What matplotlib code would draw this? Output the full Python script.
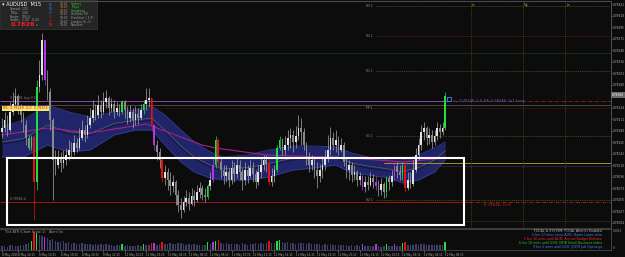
import matplotlib
matplotlib.use("Agg")
import matplotlib.pyplot as plt
import numpy as np
from matplotlib.patches import Rectangle

# ---------------- data (prices in points, 1 point = 0.00001) ----------------
first_open_pts = 78186
close_pts = [
    78194, 78210, 78190, 78226, 78242, 78258, 78234, 78220, 78200, 78174,
    78154, 78176, 78086, 78276, 78300, 78370, 78290, 78266, 78210, 78130,
    78120, 78134, 78124, 78130, 78140, 78150, 78146, 78164, 78154, 78174,
    78190, 78180, 78200, 78214, 78230, 78220, 78240, 78226, 78246, 78254,
    78234, 78242, 78226, 78234, 78226, 78246, 78230, 78214, 78226, 78210,
    78222, 78214, 78230, 78242, 78250, 78254, 78200, 78160, 78146, 78130,
    78094, 78106, 78090, 78078, 78086, 78060, 78040, 78030, 78046, 78054,
    78042, 78058, 78050, 78066, 78074, 78060, 78056, 78078, 78090, 78120,
    78170, 78126, 78110, 78098, 78106, 78090, 78114, 78102, 78120, 78106,
    78090, 78110, 78098, 78114, 78102, 78086, 78106, 78120, 78130, 78122,
    78086, 78098, 78110, 78154, 78170, 78150, 78160, 78174, 78180, 78166,
    78178, 78194, 78186, 78160, 78134, 78120, 78130, 78110, 78098, 78110,
    78120, 78134, 78150, 78174, 78160, 78170, 78150, 78160, 78126, 78110,
    78120, 78100, 78106, 78090, 78098, 78076, 78086, 78080, 78094, 78086,
    78078, 78070, 78082, 78066, 78094, 78086, 78098, 78118, 78106, 78100,
    78120, 78074, 78090, 78082, 78110, 78140, 78160, 78186, 78194, 78174,
    78180, 78166, 78178, 78194, 78186, 78194, 78258]
high_pts = [
    78214, 78226, 78220, 78246, 78266, 78274, 78262, 78242, 78226, 78210,
    78180, 78180, 78180, 78290, 78330, 78384, 78366, 78310, 78274, 78214,
    78150, 78150, 78146, 78150, 78154, 78170, 78166, 78180, 78174, 78194,
    78210, 78200, 78220, 78234, 78250, 78242, 78260, 78250, 78266, 78270,
    78258, 78254, 78250, 78246, 78242, 78250, 78250, 78238, 78240, 78234,
    78238, 78234, 78242, 78250, 78274, 78274, 78254, 78200, 78170, 78154,
    78134, 78120, 78114, 78106, 78100, 78090, 78070, 78054, 78058, 78070,
    78066, 78074, 78070, 78080, 78086, 78080, 78074, 78082, 78106, 78134,
    78178, 78174, 78134, 78120, 78120, 78114, 78130, 78126, 78134, 78130,
    78114, 78126, 78120, 78130, 78126, 78110, 78120, 78134, 78140, 78140,
    78130, 78114, 78120, 78160, 78178, 78174, 78178, 78190, 78194, 78190,
    78198, 78220, 78214, 78194, 78166, 78146, 78140, 78134, 78126, 78122,
    78134, 78150, 78180, 78196, 78186, 78190, 78178, 78174, 78166, 78134,
    78130, 78126, 78120, 78110, 78106, 78100, 78098, 78098, 78106, 78102,
    78098, 78090, 78094, 78086, 78098, 78100, 78110, 78124, 78126, 78120,
    78126, 78124, 78106, 78106, 78130, 78154, 78174, 78200, 78206, 78198,
    78194, 78190, 78190, 78206, 78202, 78206, 78266]
low_pts = [
    78174, 78186, 78178, 78186, 78220, 78234, 78222, 78206, 78186, 78160,
    78150, 78150, 78010, 78070, 78266, 78290, 78280, 78250, 78190, 78050,
    78100, 78114, 78106, 78114, 78120, 78130, 78134, 78140, 78146, 78150,
    78170, 78166, 78174, 78194, 78206, 78210, 78214, 78214, 78222, 78234,
    78220, 78226, 78214, 78220, 78218, 78222, 78214, 78202, 78206, 78194,
    78200, 78202, 78210, 78222, 78230, 78238, 78190, 78150, 78130, 78114,
    78086, 78080, 78070, 78060, 78066, 78040, 78026, 78014, 78026, 78038,
    78030, 78040, 78038, 78046, 78054, 78050, 78046, 78052, 78070, 78086,
    78114, 78118, 78094, 78082, 78086, 78076, 78082, 78086, 78094, 78090,
    78070, 78080, 78084, 78094, 78086, 78074, 78080, 78094, 78110, 78106,
    78080, 78078, 78086, 78106, 78150, 78140, 78140, 78150, 78154, 78146,
    78154, 78170, 78160, 78150, 78120, 78106, 78110, 78094, 78074, 78086,
    78094, 78110, 78126, 78140, 78150, 78146, 78140, 78146, 78118, 78094,
    78090, 78086, 78090, 78078, 78080, 78070, 78066, 78070, 78078, 78074,
    78070, 78058, 78060, 78054, 78056, 78070, 78078, 78090, 78094, 78090,
    78090, 78066, 78070, 78074, 78078, 78106, 78130, 78150, 78170, 78160,
    78162, 78154, 78160, 78170, 78174, 78180, 78190]
# indicator-coloured candles (g = green, r = red, m = magenta)
special_bars = {11: 'g', 13: 'g', 45: 'g', 53: 'g', 77: 'g', 80: 'g', 103: 'g',
                104: 'g', 144: 'g', 150: 'g', 166: 'g',
                12: 'r', 56: 'r', 60: 'r', 81: 'r', 100: 'r', 151: 'r',
                16: 'm', 57: 'm', 79: 'm', 135: 'm', 140: 'm', 147: 'm'}
volume = [
    18, 20, 15, 22, 25, 20, 18, 22, 25, 30,
    35, 43, 86, 81, 70, 65, 62, 55, 50, 52,
    45, 40, 38, 42, 35, 36, 30, 33, 28, 30,
    32, 27, 30, 28, 26, 30, 25, 27, 24, 28,
    22, 25, 20, 24, 22, 30, 20, 22, 18, 21,
    19, 22, 20, 28, 24, 22, 35, 32, 26, 28,
    36, 30, 28, 32, 27, 30, 34, 32, 29, 26,
    28, 25, 27, 24, 26, 23, 25, 38, 30, 40,
    45, 48, 35, 30, 32, 28, 30, 27, 29, 26,
    31, 28, 26, 30, 27, 33, 29, 31, 28, 32,
    45, 35, 33, 42, 50, 38, 34, 36, 32, 35,
    30, 33, 31, 34, 29, 32, 28, 30, 27, 29,
    26, 28, 25, 27, 24, 26, 23, 25, 22, 24,
    21, 23, 20, 22, 19, 30, 18, 20, 17, 19,
    28, 18, 16, 18, 30, 17, 19, 28, 18, 20,
    32, 40, 22, 24, 26, 28, 25, 30, 27, 24,
    26, 22, 25, 23, 26, 24, 38]

band_idx = [0, 8, 17, 25, 33, 42, 50, 56, 61, 67, 72, 78, 83, 92, 100, 109, 117,
            125, 131, 137, 145, 150, 156, 162, 166]
band_up_pts = [78196, 78210, 78240, 78226, 78216, 78226, 78230, 78238, 78220, 78190,
               78166, 78146, 78136, 78140, 78150, 78158, 78158, 78156, 78144, 78136,
               78130, 78130, 78140, 78154, 78166]
band_lo_pts = [78136, 78136, 78160, 78146, 78150, 78180, 78190, 78190, 78160, 78126,
               78106, 78094, 78090, 78090, 78096, 78110, 78114, 78120, 78104, 78100,
               78094, 78084, 78090, 78106, 78130]
ma_idx = [0, 17, 33, 54, 75, 80, 99, 131, 150, 166]
ma_pts = [78180, 78194, 78184, 78202, 78160, 78154, 78140, 78134, 78126, 78134]

pivot_names = ['R3', 'R2', 'R1', 'PP', 'S1', 'S2']
pivot_pts = [78438, 78378, 78308, 78234, 78178, 78050]
entry_pts = 78248
bid_pts = 78260
stop_pts = 78046
price_ticks_pts = [78441, 78418, 78395, 78372, 78349, 78326, 78303, 78280, 78257,
                   78234, 78211, 78188, 78165, 78142, 78119, 78096, 78073, 78050,
                   78027, 78004]
time_idx = [0, 6, 14, 22, 30, 38, 46, 54, 62, 70, 78, 86, 94, 102, 110, 118, 126,
            134, 142, 150, 158, 166]
time_labels = ['8 May 2015', '8 May 14:15', '8 May 16:15', '8 May 18:15', '8 May 20:15',
               '8 May 22:15', '11 May 00:15', '11 May 02:15', '11 May 04:15',
               '11 May 06:15', '11 May 08:15', '11 May 10:15', '11 May 12:15',
               '11 May 14:15', '11 May 16:15', '11 May 18:15', '11 May 20:15',
               '11 May 22:15', '12 May 00:15', '12 May 02:15', '12 May 04:15',
               '12 May 06:15']
session_idx = [175.6, 195.1, 210.9]
session_names = ['Lo', 'Ny', 'Lo']
box_idx = [1.9, 173.0]
box_pts = [78000, 78134]

# ---------------- figure ----------------
BG = '#0c0c0c'
W, H = 625, 257
fig = plt.figure(figsize=(W / 100, H / 100), dpi=100, facecolor=BG)

def frac(x0, y0, x1, y1):
    return [x0 / W, 1 - y1 / H, (x1 - x0) / W, (y1 - y0) / H]

ax = fig.add_axes(frac(0, 2, 611, 228), facecolor=BG)
axs = fig.add_axes(frac(0, 229, 611, 250), facecolor=BG)
XL = (-0.75, 228.1)
ax.set_xlim(*XL)
ax.set_ylim(77994, 78446)
axs.set_xlim(*XL)
axs.set_ylim(0, 100)

n = len(close_pts)
idx = np.arange(n)
close = np.array(close_pts, float)
opens = np.concatenate([[first_open_pts], close[:-1]])
high = np.maximum.reduce([np.array(high_pts, float), opens, close])
low = np.minimum.reduce([np.array(low_pts, float), opens, close])

cmap = {'g': '#1fe040', 'r': '#e81010', 'm': '#b035e8'}
body_c, wick_c, vol_c = [], [], []
for i in range(n):
    s = special_bars.get(i)
    if s:
        body_c.append(cmap[s]); wick_c.append(cmap[s]); vol_c.append(cmap[s])
    else:
        body_c.append('#e2e2e2' if close[i] >= opens[i] else '#8a8a8a')
        wick_c.append('#a8a8a8')
        vol_c.append('#3e3e6c')

# band
ax.fill_between(band_idx, band_lo_pts, band_up_pts, color='#1f2568', lw=0, zorder=1)
ax.plot(band_idx, band_up_pts, color='#323d8e', lw=0.6, zorder=1.2)
ax.plot(band_idx, band_lo_pts, color='#323d8e', lw=0.6, zorder=1.2)
mid = (np.array(band_up_pts) + np.array(band_lo_pts)) / 2
ax.plot(band_idx, mid, color='#5c5c6a', lw=0.5, zorder=1.3)
ax.plot(band_idx, mid - 4, color='#111122', lw=0.5, zorder=1.3)
ax.plot(ma_idx, ma_pts, color='#a8208c', lw=0.8, zorder=2.5)

# horizontal levels
xr = XL[1]
ax.hlines(78344, XL[0], xr, color='#123a12', lw=0.6, zorder=2)
ax.hlines(entry_pts, XL[0], 167, color='#8a4aa8', lw=0.7, zorder=2)
ax.hlines(entry_pts, 167, xr, color='#a02020', lw=0.6, linestyles=(0, (4, 1.5, 1, 1.5)), zorder=2)
ax.hlines(78240, XL[0], xr, color='#5e5e5e', lw=0.5, zorder=2)
ax.hlines(pivot_pts[3], XL[0], xr, color='#701818', lw=0.5, linestyles=(0, (1, 1)), zorder=2)
for nm, p in zip(pivot_names, pivot_pts):
    c = '#7a1a1a' if nm in ('R2',) else '#5a5a1c'
    if nm != 'PP':
        ax.hlines(p, 140, xr, color=c, lw=0.6, linestyles=(0, (1, 1.2)), zorder=2)
    ax.text(136.5, p, nm + ' 1', color='#9a9a9a', fontsize=2.2, va='center', ha='left', zorder=6)
ax.hlines(78124, 143, xr, color='#9a9a20', lw=0.7, zorder=2)
ax.hlines(78124, 143, 154, color='#c08040', lw=0.7, zorder=2.1)
ax.hlines(78118, 143, xr, color='#3a2448', lw=0.6, zorder=2)
ax.hlines(stop_pts, XL[0], 175, color='#a01818', lw=0.7, zorder=2)
ax.hlines(stop_pts, 175, xr, color='#b02818', lw=0.6, linestyles=(0, (4, 1.5, 1, 1.5)), zorder=2)
ax.hlines(78008, 173, xr, color='#2a2410', lw=0.6, zorder=2)
for si, sn in zip(session_idx, session_names):
    ax.vlines(si, 77994, 78446, color='#55551c', lw=0.6, linestyles=(0, (1, 1.5)), zorder=2)
    ax.text(si + 0.4, 78440, sn, color='#a0a040', fontsize=2.4, va='center', zorder=6)

# candles
ax.vlines(idx, low, high, colors=wick_c, lw=0.5, zorder=3)
ax.bar(idx, np.maximum(np.abs(close - opens), 1.5), bottom=np.minimum(opens, close),
       width=0.62, color=body_c, lw=0, zorder=4)

# user rectangle
ax.add_patch(Rectangle((box_idx[0], box_pts[0]), box_idx[1] - box_idx[0], box_pts[1] - box_pts[0],
                       fill=False, ec='white', lw=1.5, zorder=5))

# trade marker + labels
ax.plot([167.5], [entry_pts + 3], marker='s', ms=2.2, mfc='none', mec='#3a8aff', mew=0.6, zorder=6)
ax.text(169, entry_pts, '<-- 0.78248, 0.0  BE: 0.78248, 1x2 Long', color='#5a66e0',
        fontsize=2.5, va='center', zorder=6)
ax.text(180.5, stop_pts - 3, '0.78046, 5+0', color='#b83020', fontsize=2.8, va='top', zorder=6)
ax.text(3, entry_pts + 2, '0.78248  buy 0.00', color='#8a8a8a', fontsize=2.2, va='bottom', zorder=6)
ax.text(3, stop_pts + 2, '0.78046 d', color='#8a8a8a', fontsize=2.2, va='bottom', zorder=6)
ax.text(0, 78233, ' BE: 0.78248 -0.0  0.78254 ', color='#d01818', fontsize=2.4, va='center',
        zorder=7, bbox=dict(boxstyle='square,pad=0.15', fc='#f4e870', ec='none'))

# main axis styling (labels hidden where the bid box covers them)
ax.set_xticks([])
ax.yaxis.tick_right()
ax.set_yticks(price_ticks_pts)
ax.set_yticklabels(['' if abs(p - bid_pts) < 8 else f"{p / 1e5:.5f}" for p in price_ticks_pts])
ax.tick_params(axis='y', labelsize=2.05, colors='#b4b4b4', length=1.0, width=0.4, pad=0.4)
for s in ('top', 'left'):
    ax.spines[s].set_visible(False)
ax.spines['right'].set_color('#5a5a5a'); ax.spines['right'].set_linewidth(0.6)
ax.spines['bottom'].set_color('#3a3a3a'); ax.spines['bottom'].set_linewidth(0.8)
ax.annotate(f"{bid_pts / 1e5:.5f}", xy=(1.0015, bid_pts), xycoords=('axes fraction', 'data'),
            fontsize=2.05, color='white', va='center', ha='left', annotation_clip=False,
            bbox=dict(boxstyle='square,pad=0.2', fc='#6a6a6a', ec='none'))

# sub window
axs.bar(idx, volume, width=0.55, color=vol_c, lw=0)
axs.text(1, 93, 'Tick ATR (Chart Scale 1)   Alert On', color='#9a9a9a', fontsize=2.4, va='top')
axs.set_yticks([])
axs.set_xticks(time_idx)
axs.set_xticklabels(time_labels, ha='left')
axs.tick_params(axis='x', labelsize=2.0, colors='#a8a8a8', length=1.2, width=0.4, pad=0.8)
axs.spines['left'].set_visible(False)
for s in ('top', 'right', 'bottom'):
    axs.spines[s].set_color('#4a4a4a'); axs.spines[s].set_linewidth(0.6)

news = [('FOCAL & SYSTEM: FOCAL Alert(s) Enabled', '#b4b4b4'),
        ('5 hrs 17 mins since AUD: Home Loans m/m', '#4a7cff'),
        ('5 hrs 10 mins until AUD: Annual Budget Release', '#ff2020'),
        ('6 hrs 10 mins until USD: NFIB Small Business Index', '#22d022'),
        ('9 hrs 5 mins until USD: JOLTS Job Openings', '#4a7cff')]

# overlay (pixel coordinates) for panels & texts
ov = fig.add_axes([0, 0, 1, 1], facecolor='none', zorder=10)
ov.set_xlim(0, W); ov.set_ylim(H, 0); ov.axis('off')
ov.plot([0, 611], [0.5, 0.5], color='#4a4a4a', lw=0.8)
for k, (t, c) in enumerate(news):
    ov.text(602, 231 + 4 * k, t, color=c, fontsize=2.3, ha='right', va='center')
ov.text(613, 231, '0.0023', color='#a0a0a0', fontsize=2.0, va='center')
ov.text(613, 248, '0', color='#a0a0a0', fontsize=2.0, va='center')

ov.add_patch(Rectangle((0, 0), 97, 28.5, fc='#252525', ec='#383838', lw=0.5))
ov.text(2, 5, '\u25be AUDUSD  M15', color='white', fontsize=3.6, va='center')
rows = [('Spread:', '1.00'), ('ToPip:', '1.00'), ('Range:', '100.4'), ('Swaps:', '1.00  -0.43')]
for k, (a, b) in enumerate(rows):
    ov.text(10, 9.3 + 3.7 * k, a, color='#a0a0a0', fontsize=2.2, va='center')
    ov.text(22, 9.3 + 3.7 * k, b, color='#a0a0a0', fontsize=2.2, va='center')
ov.text(11, 24.8, '0.7826', color='#ff1e1e', fontsize=4.6, weight='bold', va='center')
ov.text(36, 25.3, 'c', color='#a0a0a0', fontsize=2.6, va='center')
digits = [('8', '#2f8aff'), ('0', '#30b8ff'), ('0', '#2f6cff'), ('1', '#e02020'),
          ('1', '#e02020'), ('78', '#e02020')]
for k, (d, c) in enumerate(digits):
    ov.text(50, 5 + 4 * k, d, color=c, fontsize=3.0, va='center', ha='center')
sessions = [('Sydney', '#2fd02f'), ('Tokyo', '#2fd02f'), ('Hongkong', '#2fd02f'),
            ('Helsinki (0)', '#9a9a9a'), ('Frankfurt (-1,P)', '#9a9a9a'),
            ('London (0,-1)', '#9a9a9a'), ('NewYork', '#9a9a9a')]
for k, (nm, c) in enumerate(sessions):
    y = 3.6 + 3.6 * k
    ov.text(60, y, '18:47', color='#c88a40' if k < 3 else '#9a9a9a', fontsize=2.2, va='center')
    ov.text(71, y, nm, color=c, fontsize=2.2, va='center')

fig.savefig('out.png', dpi=100, facecolor=BG)
